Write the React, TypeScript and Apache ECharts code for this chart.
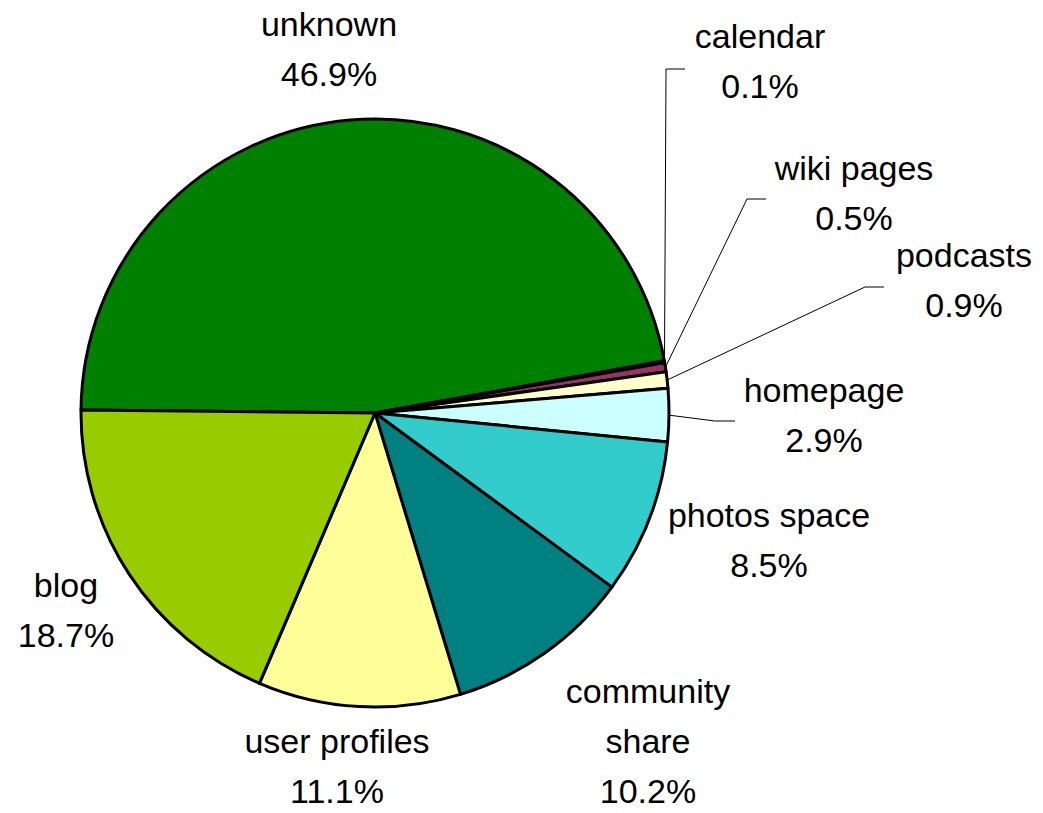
import React, { useEffect, useRef } from "react";
import * as echarts from "echarts";

const categories = [
  "unknown",
  "calendar",
  "wiki pages",
  "podcasts",
  "homepage",
  "photos space",
  "community\nshare",
  "user profiles",
  "blog",
];
const values = [46.9, 0.1, 0.5, 0.9, 2.9, 8.5, 10.2, 11.1, 18.7];
const colors = [
  "#008000",
  "#660066",
  "#993366",
  "#FFFFCC",
  "#CCFFFF",
  "#33CCCC",
  "#008080",
  "#FFFF99",
  "#99CC00",
];

// layout (label block centres and leader-line bends), not data
const CX = 375;
const CY = 413;
const R = 294;
const START = 179.4;
const labelPos: [number, number][] = [
  [329, 49],
  [760, 61],
  [854, 193],
  [964, 280],
  [824, 415],
  [769, 540],
  [648, 741],
  [337, 766],
  [66, 610],
];
const leaders: ([number, number][] | null)[] = [
  null,
  [[666, 69], [685, 69]],
  [[747, 199], [766, 199]],
  [[865, 287], [884, 287]],
  [[715, 421], [735, 421]],
  null,
  null,
  null,
  null,
];

function edgePoint(i: number): [number, number] {
  const total = values.reduce((a, b) => a + b, 0);
  let before = 0;
  for (let k = 0; k < i; k++) before += values[k];
  const mid = START - ((before + values[i] / 2) / total) * 360;
  const rad = (mid * Math.PI) / 180;
  return [CX + R * Math.cos(rad), CY - R * Math.sin(rad)];
}

export default function App() {
  const ref = useRef<HTMLDivElement>(null);
  useEffect(() => {
    document.body.style.margin = "0";
    if (!ref.current) return;
    const chart = echarts.init(ref.current, null, { renderer: "svg" });
    chart.setOption({
      animation: false,
      backgroundColor: "#ffffff",
      series: [
        {
          type: "pie",
          center: [CX, CY],
          radius: R,
          startAngle: START,
          clockwise: true,
          avoidLabelOverlap: false,
          emphasis: { disabled: true },
          itemStyle: { borderColor: "#000000", borderWidth: 3 },
          label: {
            show: true,
            position: "outside",
            formatter: (p: any) => `${p.name}\n${p.value}%`,
            fontFamily: "'Liberation Sans', Arial, sans-serif",
            fontSize: 34,
            lineHeight: 50,
            color: "#000000",
            align: "center",
          },
          labelLine: {
            show: true,
            length: 10,
            length2: 10,
            lineStyle: { color: "#000000", width: 1 },
          },
          labelLayout: (params: any) => {
            const i = params.dataIndex;
            const [x, y] = labelPos[i];
            const res: any = { x, y, align: "center", verticalAlign: "middle" };
            const lead = leaders[i];
            if (lead) {
              res.labelLinePoints = [edgePoint(i), ...lead];
            }
            return res;
          },
          data: categories.map((name, i) => ({
            name,
            value: values[i],
            itemStyle: { color: colors[i] },
            labelLine: { show: leaders[i] !== null },
          })),
        },
      ],
    });
    return () => chart.dispose();
  }, []);
  return <div ref={ref} style={{ width: 1043, height: 813 }} />;
}
